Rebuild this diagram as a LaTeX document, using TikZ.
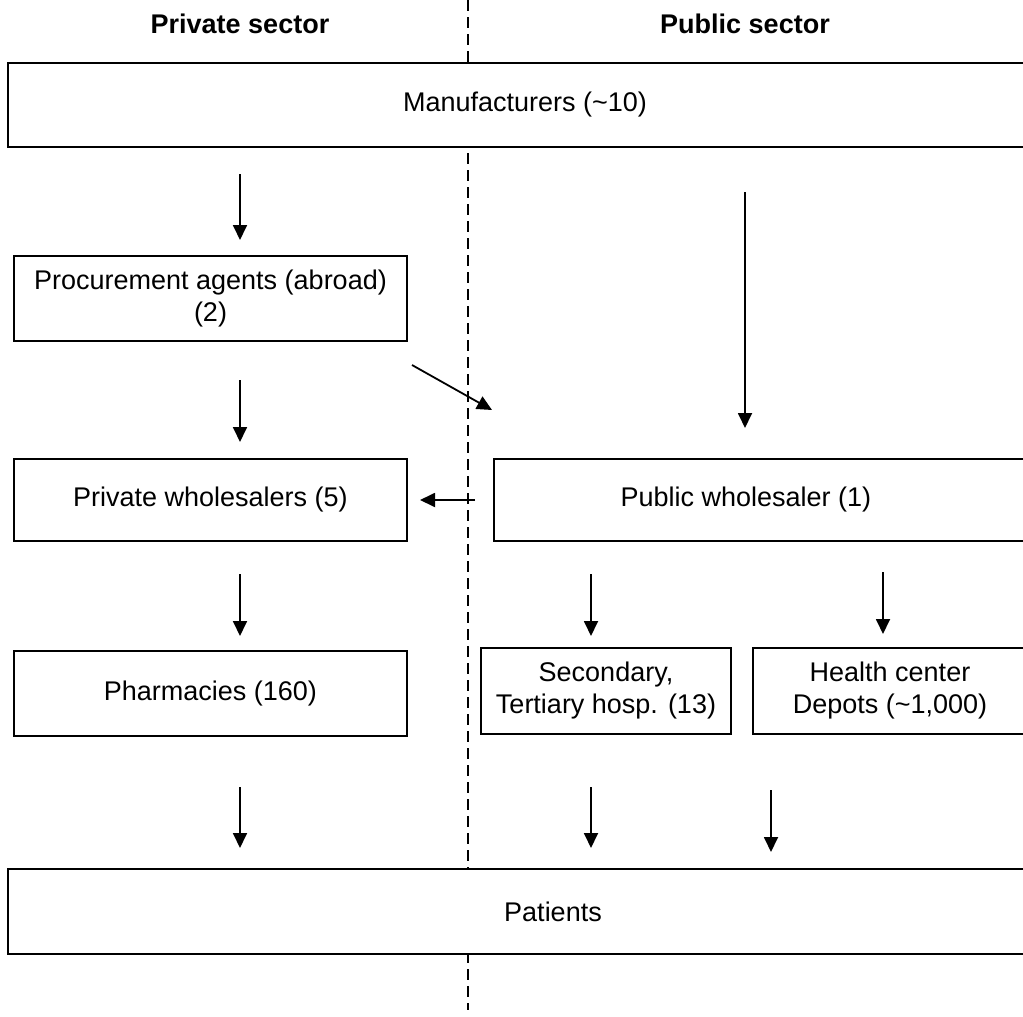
\documentclass[tikz,border=0pt]{standalone}
\usepackage{fontspec}
\setmainfont{Liberation Sans}
\usetikzlibrary{arrows.meta,calc}

\begin{document}
\begin{tikzpicture}[x=1pt,y=-1pt,
    box/.style={draw,line width=2pt,fill=white,inner sep=0pt,anchor=north west,align=center},
    arr/.style={line width=1.8pt,-{Triangle[length=15pt,width=14pt]}},
    sector/.style={font=\bfseries}]
  \useasboundingbox (0,0) rectangle (1023,1017);
  \clip (0,0) rectangle (1023,1017);
  \fontsize{27}{32}\selectfont
  % divider between the two sectors
  \draw[line width=1.6pt,dash pattern=on 11pt off 6pt] (468,0) -- (468,1010);
  \node[sector] (priv) at (240,24) {Private sector};
  \node[sector] (publ) at (745,24) {Public sector};
  % boxes
  \node[box,minimum width=1034,minimum height=84] (manu) at (7,62) {Manufacturers (\textasciitilde10)};
  \node[box,minimum width=393,minimum height=85] (proc) at (13,255) {Procurement agents (abroad)\\(2)};
  \node[box,minimum width=393,minimum height=82] (privw) at (13,458) {Private wholesalers (5)};
  \node[box,minimum width=560,minimum height=82,
        label={[xshift=-28pt]center:Public wholesaler (1)}] (pubw) at (493,458) {};
  \node[box,minimum width=393,minimum height=85] (pharm) at (13,650) {Pharmacies (160)};
  \node[box,minimum width=250,minimum height=86] (hosp) at (480,647) {Secondary,\\Tertiary hosp. (13)};
  \node[box,minimum width=274,minimum height=86] (depot) at (752,647) {Health center\\Depots (\textasciitilde1,000)};
  \node[box,minimum width=1090,minimum height=85] (pat) at (7,868) {Patients};
  % columns for the arrows
  \coordinate (c1) at (240,0);
  \coordinate (c2) at (745,0);
  \coordinate (c3) at (591,0);
  \coordinate (c4) at (883,0);
  \coordinate (c5) at (771,0);
  % arrows
  \draw[arr,shorten <=26pt,shorten >=15pt] (c1 |- manu.south) -- (c1 |- proc.north);
  \draw[arr,shorten <=44pt,shorten >=30pt] (c2 |- manu.south) -- (c2 |- pubw.north);
  \draw[arr] ($(proc.south east)+(4,23)$) -- ($(pubw.north west)+(-1,-48)$);
  \draw[arr,shorten <=38pt,shorten >=16pt] (c1 |- proc.south) -- (c1 |- privw.north);
  \draw[arr,shorten <=18pt,shorten >=12pt] (pubw.west) -- (privw.east);
  \draw[arr,shorten <=32pt,shorten >=14pt] (c1 |- privw.south) -- (c1 |- pharm.north);
  \draw[arr,shorten <=32pt,shorten >=11pt] (c3 |- pubw.south) -- (c3 |- hosp.north);
  \draw[arr,shorten <=30pt,shorten >=13pt] (c4 |- pubw.south) -- (c4 |- depot.north);
  \draw[arr,shorten <=50pt,shorten >=20pt] (c1 |- pharm.south) -- (c1 |- pat.north);
  \draw[arr,shorten <=52pt,shorten >=20pt] (c3 |- hosp.south) -- (c3 |- pat.north);
  \draw[arr,shorten <=55pt,shorten >=16pt] (c5 |- depot.south) -- (c5 |- pat.north);
\end{tikzpicture}
\end{document}
